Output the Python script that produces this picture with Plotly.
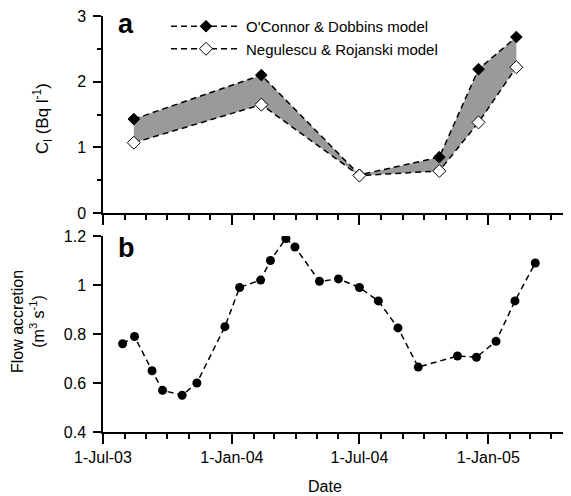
import plotly.graph_objects as go

# ---- data ----
model_dates = ["2003-08-14", "2004-02-12", "2004-07-01", "2004-10-23", "2004-12-18", "2005-02-10"]
oconnor = [1.43, 2.10, 0.58, 0.85, 2.19, 2.68]
negulescu = [1.07, 1.65, 0.57, 0.64, 1.38, 2.22]

flow_dates = ["2003-07-29", "2003-08-15", "2003-09-09", "2003-09-24", "2003-10-22", "2003-11-12",
              "2003-12-22", "2004-01-12", "2004-02-11", "2004-02-25", "2004-03-18", "2004-03-31",
              "2004-05-05", "2004-06-01", "2004-07-01", "2004-07-28", "2004-08-25", "2004-09-23",
              "2004-11-18", "2004-12-15", "2005-01-12", "2005-02-08", "2005-03-09"]
flow = [0.76, 0.79, 0.65, 0.57, 0.55, 0.60, 0.83, 0.99, 1.02, 1.10, 1.19, 1.155,
        1.015, 1.025, 0.99, 0.935, 0.825, 0.665, 0.71, 0.705, 0.77, 0.935, 1.09]

series_names = ["O'Connor & Dobbins model", "Negulescu & Rojanski model"]
x_range = ["2003-07-01", "2005-04-29"]

FONT = "Liberation Sans, Arial, sans-serif"
DASH = "6px,4px"
FILL = "#9a9a9a"

fig = go.Figure()

# shaded band between the two models
fig.add_trace(go.Scatter(x=model_dates, y=negulescu, mode="lines", line=dict(width=0),
                         showlegend=False, hoverinfo="skip", xaxis="x", yaxis="y"))
fig.add_trace(go.Scatter(x=model_dates, y=oconnor, mode="lines", line=dict(width=0),
                         fill="tonexty", fillcolor=FILL, showlegend=False, hoverinfo="skip",
                         xaxis="x", yaxis="y"))

fig.add_trace(go.Scatter(x=model_dates, y=oconnor, mode="lines+markers", name=series_names[0],
                         line=dict(color="black", width=1.5, dash=DASH),
                         marker=dict(symbol="diamond", size=9, color="black",
                                     line=dict(color="black", width=1)),
                         xaxis="x", yaxis="y", legendgroup="a"))
fig.add_trace(go.Scatter(x=model_dates, y=negulescu, mode="lines+markers", name=series_names[1],
                         line=dict(color="black", width=1.5, dash=DASH),
                         marker=dict(symbol="diamond", size=10, color="white",
                                     line=dict(color="black", width=1)),
                         xaxis="x", yaxis="y", legendgroup="b"))

fig.add_trace(go.Scatter(x=flow_dates, y=flow, mode="lines+markers", showlegend=False,
                         line=dict(color="black", width=1.5, dash=DASH),
                         marker=dict(symbol="circle", size=9, color="black"),
                         xaxis="x2", yaxis="y2"))

# page body adds an 8px offset; layout expressed in screen pixels
OFF = 8
W, H = 571 - OFF, 496 - OFF
ml, mr, mt, mb = 103 - OFF, 0, 16 - OFF, H - (432 - OFF)
pw, ph = W - ml - mr, H - mt - mb


def py(pix):
    return (H - mb - (pix - OFF)) / ph


def px(pix):
    return ((pix - OFF) - ml) / pw


xcommon = dict(type="date", range=x_range, showline=True, linecolor="black", linewidth=1.5,
               ticks="outside", ticklen=10, tickwidth=1.5, tickcolor="black",
               tick0="2003-07-01", dtick="M6", tickformat="%-d-%b-%y",
               minor=dict(dtick="M1", ticks="outside", ticklen=5, tickwidth=1.5, tickcolor="black",
                          showgrid=False),
               showgrid=False, zeroline=False, automargin=False, ticklabeloverflow="allow",
               tickfont=dict(family=FONT, size=16, color="black"))

fig.update_layout(
    template="none",
    width=W, height=H,
    margin=dict(l=ml, r=mr, t=mt, b=mb, pad=0, autoexpand=False),
    paper_bgcolor="white", plot_bgcolor="white",
    font=dict(family=FONT, size=16, color="black"),
    xaxis=dict(**xcommon, domain=[0, 1], anchor="y", showticklabels=False, matches="x2"),
    xaxis2=dict(**xcommon, domain=[0, 1], anchor="y2"),
    yaxis=dict(domain=[py(213), 1], range=[0, 3], dtick=1, anchor="x",
               showline=True, linecolor="black", linewidth=1.5,
               ticks="outside", ticklen=8, tickwidth=1.5, tickcolor="black",
               minor=dict(dtick=0.5, ticks="outside", ticklen=4, tickwidth=1.5, tickcolor="black",
                          showgrid=False),
               showgrid=False, zeroline=False, ticklabelstandoff=4, automargin=False,
               ticklabeloverflow="allow",
               tickfont=dict(family=FONT, size=16, color="black")),
    yaxis2=dict(domain=[0, py(236)], range=[0.4, 1.2], dtick=0.2, tick0=0.4, anchor="x2",
                tickformat="~g",
                showline=True, linecolor="black", linewidth=1.5,
                ticks="outside", ticklen=8, tickwidth=1.5, tickcolor="black",
                showgrid=False, zeroline=False, ticklabelstandoff=4, automargin=False,
                ticklabeloverflow="allow",
                tickfont=dict(family=FONT, size=16, color="black")),
    showlegend=True,
    legend=dict(x=px(166), y=py(10), xanchor="left", yanchor="top",
                bgcolor="rgba(0,0,0,0)", borderwidth=0,
                font=dict(family=FONT, size=15, color="black"),
                traceorder="grouped", tracegroupgap=0, itemwidth=70),
    annotations=[
        dict(text="<b>a</b>", xref="paper", yref="paper", x=px(126), y=py(24),
             xanchor="center", yanchor="middle", showarrow=False,
             font=dict(family=FONT, size=27, color="black")),
        dict(text="<b>b</b>", xref="paper", yref="paper", x=px(126), y=py(248),
             xanchor="center", yanchor="middle", showarrow=False,
             font=dict(family=FONT, size=27, color="black")),
        dict(text="C<sub>l</sub> (Bq l<sup>-1</sup>)", xref="paper", yref="paper",
             x=px(42), y=py(118), textangle=-90, xanchor="center", yanchor="middle",
             showarrow=False, font=dict(family=FONT, size=17, color="black")),
        dict(text="Flow accretion<br>(m<sup>3</sup> s<sup>-1</sup>)", xref="paper", yref="paper",
             x=px(28), y=py(322), textangle=-90, xanchor="center", yanchor="middle",
             showarrow=False, font=dict(family=FONT, size=16, color="black")),
        dict(text="Date", xref="paper", yref="paper", x=px(325), y=py(486),
             xanchor="center", yanchor="middle", showarrow=False,
             font=dict(family=FONT, size=16, color="black")),
    ],
)

fig.write_html("out.html")
